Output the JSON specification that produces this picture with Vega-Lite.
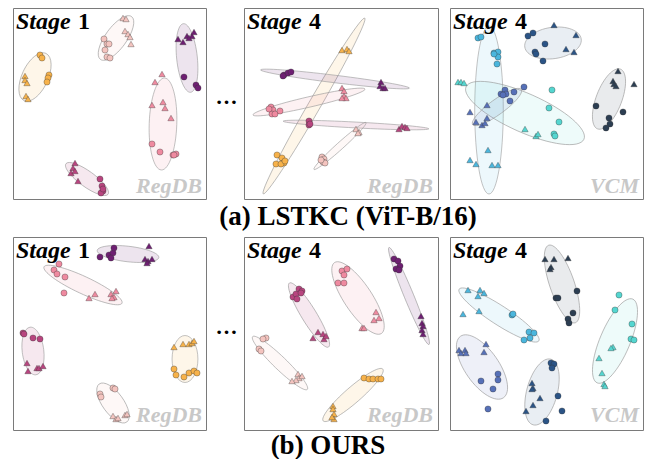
{
"$schema":"https://vega.github.io/schema/vega-lite/v6.json",
"padding":{"left":12,"top":7,"right":2,"bottom":0},
"background":"white",
"config":{"view":{"stroke":"#7a7a7a","strokeWidth":1},"text":{"font":"Liberation Serif, Times New Roman, Times, serif"},"title":{"font":"Liberation Serif, Times New Roman, Times, serif"},"range":{"category":["#55d6d0","#2b5486","#4ab6dd","#f4c4bf","#5670b8","#b8457f","#2c3e52","#f7b24a","#ef8aa0","#6e1f72"]}},
"datasets":{
"lab":[{"p":1,"s":"1","x":3,"y":20.5},{"p":2,"s":"4","x":3,"y":20.5},{"p":3,"s":"4","x":3,"y":20.5},{"p":4,"s":"1","x":3,"y":20.5},{"p":5,"s":"4","x":3,"y":20.5},{"p":6,"s":"4","x":3,"y":20.5}],
"wm":[{"p":1,"t":"RegDB","x":189,"y":185},{"p":2,"t":"RegDB","x":189,"y":185},{"p":3,"t":"VCM","x":189,"y":185},{"p":4,"t":"RegDB","x":189,"y":185},{"p":5,"t":"RegDB","x":189,"y":185},{"p":6,"t":"VCM","x":189,"y":185}],
"ell":[
{"p":1,"c":"o","x":22,"y":69,"len":52,"r":0.5,"a":115},
{"p":1,"c":"lp","x":103,"y":30,"len":53,"r":0.4,"a":126},
{"p":1,"c":"pu","x":174,"y":50,"len":69,"r":0.3,"a":84},
{"p":1,"c":"pk","x":150,"y":116,"len":92,"r":0.3,"a":92},
{"p":1,"c":"mg","x":74,"y":171,"len":52,"r":0.3,"a":36},
{"p":2,"c":"o","x":70,"y":98,"len":203,"r":0.06,"a":120},
{"p":2,"c":"pu","x":91,"y":71,"len":150,"r":0.05,"a":7},
{"p":2,"c":"pk","x":65,"y":94,"len":115,"r":0.09,"a":-13},
{"p":2,"c":"mg","x":112,"y":117,"len":146,"r":0.04,"a":3},
{"p":2,"c":"lp","x":96,"y":138,"len":70,"r":0.1,"a":-42},
{"p":3,"c":"lb","x":39,"y":102,"len":168,"r":0.17,"a":90},
{"p":3,"c":"cy","x":75,"y":105,"len":129,"r":0.3,"a":24},
{"p":3,"c":"mb","x":47,"y":99,"len":60,"r":0.25,"a":-36},
{"p":3,"c":"db","x":103,"y":35,"len":57,"r":0.55,"a":-8},
{"p":3,"c":"nv","x":159,"y":91,"len":64,"r":0.4,"a":111},
{"p":4,"c":"pu","x":115,"y":17,"len":62,"r":0.25,"a":6.5},
{"p":4,"c":"pk","x":70,"y":48,"len":86,"r":0.2,"a":25},
{"p":4,"c":"mg","x":20,"y":114,"len":48,"r":0.45,"a":83},
{"p":4,"c":"o","x":172,"y":122,"len":47,"r":0.55,"a":90},
{"p":4,"c":"lp","x":100,"y":166,"len":47,"r":0.45,"a":54},
{"p":5,"c":"mg","x":65,"y":78,"len":75,"r":0.2,"a":58.6},
{"p":5,"c":"pk","x":114,"y":61,"len":85,"r":0.33,"a":56.5},
{"p":5,"c":"pu","x":165,"y":59,"len":105,"r":0.09,"a":67.6},
{"p":5,"c":"lp","x":36,"y":126,"len":76,"r":0.17,"a":44},
{"p":5,"c":"o","x":109,"y":158,"len":79,"r":0.2,"a":-41},
{"p":6,"c":"nv","x":112,"y":47,"len":82,"r":0.3,"a":71},
{"p":6,"c":"lb","x":49,"y":78,"len":95,"r":0.2,"a":33},
{"p":6,"c":"cy","x":165,"y":104,"len":91,"r":0.33,"a":113},
{"p":6,"c":"mb","x":32,"y":130,"len":75,"r":0.45,"a":55},
{"p":6,"c":"db","x":92,"y":155,"len":68,"r":0.45,"a":105}
],
"pts":[
{"p":1,"c":"o","m":"c","x":27,"y":47},{"p":1,"c":"o","m":"c","x":29,"y":50},{"p":1,"c":"o","m":"c","x":36,"y":67},{"p":1,"c":"o","m":"c","x":35,"y":70},{"p":1,"c":"o","m":"c","x":34,"y":74},
{"p":1,"c":"o","m":"t","x":12,"y":68},{"p":1,"c":"o","m":"t","x":12,"y":72},{"p":1,"c":"o","m":"t","x":14,"y":75},{"p":1,"c":"o","m":"t","x":13,"y":88},{"p":1,"c":"o","m":"t","x":15,"y":91},
{"p":1,"c":"lp","m":"t","x":110,"y":10},{"p":1,"c":"lp","m":"t","x":113,"y":11},{"p":1,"c":"lp","m":"t","x":112,"y":23},{"p":1,"c":"lp","m":"t","x":115,"y":26},{"p":1,"c":"lp","m":"t","x":117,"y":29},{"p":1,"c":"lp","m":"t","x":118,"y":36},
{"p":1,"c":"lp","m":"c","x":91,"y":31},{"p":1,"c":"lp","m":"c","x":94,"y":36},{"p":1,"c":"lp","m":"c","x":96,"y":36},{"p":1,"c":"lp","m":"c","x":92,"y":42},{"p":1,"c":"lp","m":"c","x":94,"y":49},{"p":1,"c":"lp","m":"c","x":97,"y":50},
{"p":1,"c":"pu","m":"t","x":165,"y":31},{"p":1,"c":"pu","m":"t","x":170,"y":34},{"p":1,"c":"pu","m":"t","x":174,"y":28},{"p":1,"c":"pu","m":"t","x":179,"y":28},{"p":1,"c":"pu","m":"t","x":181,"y":24},{"p":1,"c":"pu","m":"t","x":176,"y":30},
{"p":1,"c":"pu","m":"c","x":171,"y":69},{"p":1,"c":"pu","m":"c","x":183,"y":77},{"p":1,"c":"pu","m":"c","x":185,"y":80},
{"p":1,"c":"pk","m":"t","x":149,"y":66},{"p":1,"c":"pk","m":"t","x":142,"y":74},{"p":1,"c":"pk","m":"t","x":139,"y":97},{"p":1,"c":"pk","m":"t","x":150,"y":94},{"p":1,"c":"pk","m":"t","x":152,"y":100},{"p":1,"c":"pk","m":"t","x":158,"y":110},
{"p":1,"c":"pk","m":"c","x":139,"y":136},{"p":1,"c":"pk","m":"c","x":147,"y":144},{"p":1,"c":"pk","m":"c","x":160,"y":147},{"p":1,"c":"pk","m":"c","x":163,"y":146},{"p":1,"c":"pk","m":"c","x":161,"y":147},
{"p":1,"c":"mg","m":"t","x":62,"y":155},{"p":1,"c":"mg","m":"t","x":60,"y":160},{"p":1,"c":"mg","m":"t","x":58,"y":165},{"p":1,"c":"mg","m":"t","x":62,"y":163},{"p":1,"c":"mg","m":"t","x":65,"y":173},
{"p":1,"c":"mg","m":"c","x":87,"y":171},{"p":1,"c":"mg","m":"c","x":89,"y":178},{"p":1,"c":"mg","m":"c","x":90,"y":183},{"p":1,"c":"mg","m":"c","x":88,"y":185},{"p":1,"c":"mg","m":"c","x":90,"y":181},
{"p":2,"c":"o","m":"t","x":98,"y":42},{"p":2,"c":"o","m":"t","x":103,"y":41},{"p":2,"c":"o","m":"t","x":105,"y":43},
{"p":2,"c":"o","m":"c","x":33,"y":147},{"p":2,"c":"o","m":"c","x":38,"y":150},{"p":2,"c":"o","m":"c","x":40,"y":155},{"p":2,"c":"o","m":"c","x":32,"y":156},{"p":2,"c":"o","m":"c","x":37,"y":156},{"p":2,"c":"o","m":"c","x":41,"y":153},
{"p":2,"c":"pu","m":"c","x":40,"y":67},{"p":2,"c":"pu","m":"c","x":44,"y":65},{"p":2,"c":"pu","m":"c","x":47,"y":64},{"p":2,"c":"pu","m":"c","x":39,"y":68},
{"p":2,"c":"pu","m":"t","x":137,"y":74},{"p":2,"c":"pu","m":"t","x":136,"y":78},{"p":2,"c":"pu","m":"t","x":139,"y":80},{"p":2,"c":"pu","m":"t","x":141,"y":80},
{"p":2,"c":"pk","m":"c","x":27,"y":99},{"p":2,"c":"pk","m":"c","x":29,"y":102},{"p":2,"c":"pk","m":"c","x":28,"y":106},{"p":2,"c":"pk","m":"c","x":31,"y":106},{"p":2,"c":"pk","m":"c","x":36,"y":103},{"p":2,"c":"pk","m":"c","x":25,"y":101},
{"p":2,"c":"pk","m":"t","x":98,"y":80},{"p":2,"c":"pk","m":"t","x":100,"y":83},{"p":2,"c":"pk","m":"t","x":100,"y":88},{"p":2,"c":"pk","m":"t","x":102,"y":90},{"p":2,"c":"pk","m":"t","x":98,"y":90},
{"p":2,"c":"mg","m":"c","x":65,"y":113},{"p":2,"c":"mg","m":"c","x":65,"y":117},{"p":2,"c":"mg","m":"c","x":66,"y":116},
{"p":2,"c":"mg","m":"t","x":155,"y":121},{"p":2,"c":"mg","m":"t","x":158,"y":118},{"p":2,"c":"mg","m":"t","x":161,"y":119},{"p":2,"c":"mg","m":"t","x":163,"y":120},
{"p":2,"c":"lp","m":"c","x":78,"y":149},{"p":2,"c":"lp","m":"c","x":80,"y":151},{"p":2,"c":"lp","m":"c","x":79,"y":154},{"p":2,"c":"lp","m":"c","x":81,"y":155},{"p":2,"c":"lp","m":"c","x":77,"y":152},
{"p":2,"c":"lp","m":"t","x":112,"y":121},{"p":2,"c":"lp","m":"t","x":115,"y":124},{"p":2,"c":"lp","m":"t","x":114,"y":125},
{"p":3,"c":"lb","m":"c","x":28,"y":30},{"p":3,"c":"lb","m":"c","x":31,"y":29},{"p":3,"c":"lb","m":"c","x":44,"y":45},{"p":3,"c":"lb","m":"c","x":48,"y":44},{"p":3,"c":"lb","m":"c","x":48,"y":49},{"p":3,"c":"lb","m":"c","x":47,"y":56},{"p":3,"c":"lb","m":"c","x":44,"y":46},
{"p":3,"c":"lb","m":"t","x":38,"y":142},{"p":3,"c":"lb","m":"t","x":20,"y":152},{"p":3,"c":"lb","m":"t","x":26,"y":156},{"p":3,"c":"lb","m":"t","x":42,"y":157},{"p":3,"c":"lb","m":"t","x":48,"y":157},
{"p":3,"c":"cy","m":"t","x":8,"y":74},{"p":3,"c":"cy","m":"t","x":11,"y":74},{"p":3,"c":"cy","m":"t","x":14,"y":75},{"p":3,"c":"cy","m":"t","x":75,"y":121},{"p":3,"c":"cy","m":"t","x":86,"y":128},{"p":3,"c":"cy","m":"t","x":88,"y":126},
{"p":3,"c":"cy","m":"c","x":102,"y":82},{"p":3,"c":"cy","m":"c","x":99,"y":100},{"p":3,"c":"cy","m":"c","x":109,"y":114},{"p":3,"c":"cy","m":"c","x":104,"y":126},{"p":3,"c":"cy","m":"c","x":105,"y":128},
{"p":3,"c":"mb","m":"c","x":51,"y":86},{"p":3,"c":"mb","m":"c","x":55,"y":82},{"p":3,"c":"mb","m":"c","x":56,"y":86},{"p":3,"c":"mb","m":"c","x":64,"y":84},{"p":3,"c":"mb","m":"c","x":74,"y":79},{"p":3,"c":"mb","m":"c","x":60,"y":93},{"p":3,"c":"mb","m":"c","x":53,"y":87},
{"p":3,"c":"mb","m":"t","x":37,"y":97},{"p":3,"c":"mb","m":"t","x":20,"y":104},{"p":3,"c":"mb","m":"t","x":26,"y":114},{"p":3,"c":"mb","m":"t","x":32,"y":117},{"p":3,"c":"mb","m":"t","x":35,"y":115},{"p":3,"c":"mb","m":"t","x":37,"y":110},
{"p":3,"c":"db","m":"c","x":78,"y":28},{"p":3,"c":"db","m":"c","x":83,"y":25},{"p":3,"c":"db","m":"c","x":95,"y":36},{"p":3,"c":"db","m":"c","x":85,"y":44},{"p":3,"c":"db","m":"c","x":86,"y":46},{"p":3,"c":"db","m":"c","x":93,"y":53},
{"p":3,"c":"db","m":"t","x":104,"y":17},{"p":3,"c":"db","m":"t","x":126,"y":27},{"p":3,"c":"db","m":"t","x":116,"y":41},{"p":3,"c":"db","m":"t","x":124,"y":44},
{"p":3,"c":"nv","m":"t","x":168,"y":63},{"p":3,"c":"nv","m":"t","x":163,"y":73},{"p":3,"c":"nv","m":"t","x":164,"y":76},{"p":3,"c":"nv","m":"t","x":166,"y":78},{"p":3,"c":"nv","m":"t","x":184,"y":76},
{"p":3,"c":"nv","m":"c","x":146,"y":98},{"p":3,"c":"nv","m":"c","x":173,"y":104},{"p":3,"c":"nv","m":"c","x":159,"y":110},{"p":3,"c":"nv","m":"c","x":160,"y":116},{"p":3,"c":"nv","m":"c","x":156,"y":120},
{"p":4,"c":"pu","m":"c","x":87,"y":20},{"p":4,"c":"pu","m":"c","x":96,"y":18},{"p":4,"c":"pu","m":"c","x":100,"y":16},{"p":4,"c":"pu","m":"c","x":101,"y":11},{"p":4,"c":"pu","m":"c","x":98,"y":21},
{"p":4,"c":"pu","m":"t","x":136,"y":9},{"p":4,"c":"pu","m":"t","x":132,"y":22},{"p":4,"c":"pu","m":"t","x":135,"y":24},{"p":4,"c":"pu","m":"t","x":139,"y":22},{"p":4,"c":"pu","m":"t","x":134,"y":26},
{"p":4,"c":"pk","m":"c","x":46,"y":27},{"p":4,"c":"pk","m":"c","x":41,"y":33},{"p":4,"c":"pk","m":"c","x":44,"y":37},{"p":4,"c":"pk","m":"c","x":52,"y":40},{"p":4,"c":"pk","m":"c","x":51,"y":56},
{"p":4,"c":"pk","m":"t","x":76,"y":61},{"p":4,"c":"pk","m":"t","x":82,"y":57},{"p":4,"c":"pk","m":"t","x":98,"y":57},{"p":4,"c":"pk","m":"t","x":101,"y":60},{"p":4,"c":"pk","m":"t","x":103,"y":54},{"p":4,"c":"pk","m":"t","x":99,"y":61},
{"p":4,"c":"mg","m":"c","x":10,"y":96},{"p":4,"c":"mg","m":"c","x":11,"y":97},{"p":4,"c":"mg","m":"c","x":20,"y":101},{"p":4,"c":"mg","m":"c","x":27,"y":102},
{"p":4,"c":"mg","m":"t","x":14,"y":126},{"p":4,"c":"mg","m":"t","x":15,"y":134},{"p":4,"c":"mg","m":"t","x":24,"y":131},{"p":4,"c":"mg","m":"t","x":26,"y":131},{"p":4,"c":"mg","m":"t","x":30,"y":129},
{"p":4,"c":"o","m":"t","x":161,"y":110},{"p":4,"c":"o","m":"t","x":170,"y":107},{"p":4,"c":"o","m":"t","x":176,"y":107},{"p":4,"c":"o","m":"t","x":179,"y":106},{"p":4,"c":"o","m":"t","x":181,"y":104},
{"p":4,"c":"o","m":"c","x":161,"y":132},{"p":4,"c":"o","m":"c","x":163,"y":138},{"p":4,"c":"o","m":"c","x":171,"y":140},{"p":4,"c":"o","m":"c","x":176,"y":136},{"p":4,"c":"o","m":"c","x":181,"y":134},{"p":4,"c":"o","m":"c","x":184,"y":136},
{"p":4,"c":"lp","m":"c","x":100,"y":151},{"p":4,"c":"lp","m":"c","x":102,"y":152},{"p":4,"c":"lp","m":"c","x":87,"y":157},{"p":4,"c":"lp","m":"c","x":88,"y":160},
{"p":4,"c":"lp","m":"t","x":100,"y":179},{"p":4,"c":"lp","m":"t","x":103,"y":182},{"p":4,"c":"lp","m":"t","x":105,"y":181},{"p":4,"c":"lp","m":"t","x":112,"y":178},{"p":4,"c":"lp","m":"t","x":114,"y":177},
{"p":5,"c":"mg","m":"c","x":49,"y":60},{"p":5,"c":"mg","m":"c","x":52,"y":57},{"p":5,"c":"mg","m":"c","x":55,"y":52},{"p":5,"c":"mg","m":"c","x":58,"y":54},{"p":5,"c":"mg","m":"c","x":57,"y":56},{"p":5,"c":"mg","m":"c","x":53,"y":62},
{"p":5,"c":"mg","m":"t","x":69,"y":101},{"p":5,"c":"mg","m":"t","x":74,"y":95},{"p":5,"c":"mg","m":"t","x":79,"y":97},{"p":5,"c":"mg","m":"t","x":80,"y":102},{"p":5,"c":"mg","m":"t","x":82,"y":99},
{"p":5,"c":"pk","m":"c","x":98,"y":34},{"p":5,"c":"pk","m":"c","x":103,"y":32},{"p":5,"c":"pk","m":"c","x":100,"y":38},{"p":5,"c":"pk","m":"c","x":94,"y":46},{"p":5,"c":"pk","m":"c","x":100,"y":46},
{"p":5,"c":"pk","m":"t","x":132,"y":75},{"p":5,"c":"pk","m":"t","x":135,"y":81},{"p":5,"c":"pk","m":"t","x":130,"y":83},{"p":5,"c":"pk","m":"t","x":118,"y":91},{"p":5,"c":"pk","m":"t","x":120,"y":91},
{"p":5,"c":"pu","m":"c","x":150,"y":22},{"p":5,"c":"pu","m":"c","x":154,"y":24},{"p":5,"c":"pu","m":"c","x":156,"y":29},{"p":5,"c":"pu","m":"c","x":152,"y":32},{"p":5,"c":"pu","m":"c","x":155,"y":33},
{"p":5,"c":"pu","m":"t","x":177,"y":79},{"p":5,"c":"pu","m":"t","x":178,"y":86},{"p":5,"c":"pu","m":"t","x":179,"y":89},{"p":5,"c":"pu","m":"t","x":178,"y":93},{"p":5,"c":"pu","m":"t","x":179,"y":97},
{"p":5,"c":"lp","m":"c","x":22,"y":101},{"p":5,"c":"lp","m":"c","x":19,"y":102},{"p":5,"c":"lp","m":"c","x":15,"y":112},{"p":5,"c":"lp","m":"c","x":17,"y":114},
{"p":5,"c":"lp","m":"t","x":54,"y":137},{"p":5,"c":"lp","m":"t","x":55,"y":141},{"p":5,"c":"lp","m":"t","x":52,"y":143},{"p":5,"c":"lp","m":"t","x":48,"y":144},{"p":5,"c":"lp","m":"t","x":58,"y":139},
{"p":5,"c":"o","m":"c","x":120,"y":141},{"p":5,"c":"o","m":"c","x":125,"y":142},{"p":5,"c":"o","m":"c","x":129,"y":142},{"p":5,"c":"o","m":"c","x":134,"y":142},{"p":5,"c":"o","m":"c","x":137,"y":142},
{"p":5,"c":"o","m":"t","x":89,"y":169},{"p":5,"c":"o","m":"t","x":89,"y":172},{"p":5,"c":"o","m":"t","x":90,"y":177},{"p":5,"c":"o","m":"t","x":90,"y":182},{"p":5,"c":"o","m":"t","x":88,"y":180},
{"p":6,"c":"nv","m":"t","x":95,"y":22},{"p":6,"c":"nv","m":"t","x":104,"y":22},{"p":6,"c":"nv","m":"t","x":118,"y":21},{"p":6,"c":"nv","m":"t","x":101,"y":30},{"p":6,"c":"nv","m":"t","x":100,"y":32},
{"p":6,"c":"nv","m":"c","x":127,"y":54},{"p":6,"c":"nv","m":"c","x":106,"y":61},{"p":6,"c":"nv","m":"c","x":108,"y":61},{"p":6,"c":"nv","m":"c","x":123,"y":76},{"p":6,"c":"nv","m":"c","x":118,"y":82},{"p":6,"c":"nv","m":"c","x":119,"y":86},
{"p":6,"c":"lb","m":"t","x":18,"y":53},{"p":6,"c":"lb","m":"t","x":30,"y":53},{"p":6,"c":"lb","m":"t","x":34,"y":56},{"p":6,"c":"lb","m":"t","x":28,"y":59},{"p":6,"c":"lb","m":"t","x":29,"y":74},{"p":6,"c":"lb","m":"t","x":13,"y":77},
{"p":6,"c":"lb","m":"c","x":62,"y":78},{"p":6,"c":"lb","m":"c","x":63,"y":77},{"p":6,"c":"lb","m":"c","x":79,"y":95},{"p":6,"c":"lb","m":"c","x":84,"y":96},{"p":6,"c":"lb","m":"c","x":80,"y":101},{"p":6,"c":"lb","m":"c","x":74,"y":103},
{"p":6,"c":"cy","m":"c","x":169,"y":58},{"p":6,"c":"cy","m":"c","x":165,"y":73},{"p":6,"c":"cy","m":"c","x":182,"y":87},{"p":6,"c":"cy","m":"c","x":181,"y":102},{"p":6,"c":"cy","m":"c","x":184,"y":103},
{"p":6,"c":"cy","m":"t","x":163,"y":110},{"p":6,"c":"cy","m":"t","x":161,"y":111},{"p":6,"c":"cy","m":"t","x":149,"y":121},{"p":6,"c":"cy","m":"t","x":152,"y":136},{"p":6,"c":"cy","m":"t","x":154,"y":147},{"p":6,"c":"cy","m":"t","x":155,"y":149},
{"p":6,"c":"mb","m":"t","x":9,"y":113},{"p":6,"c":"mb","m":"t","x":11,"y":116},{"p":6,"c":"mb","m":"t","x":15,"y":113},{"p":6,"c":"mb","m":"t","x":16,"y":116},{"p":6,"c":"mb","m":"t","x":36,"y":107},{"p":6,"c":"mb","m":"t","x":34,"y":115},
{"p":6,"c":"mb","m":"c","x":48,"y":137},{"p":6,"c":"mb","m":"c","x":48,"y":143},{"p":6,"c":"mb","m":"c","x":31,"y":144},{"p":6,"c":"mb","m":"c","x":43,"y":152},{"p":6,"c":"mb","m":"c","x":38,"y":172},
{"p":6,"c":"db","m":"c","x":101,"y":126},{"p":6,"c":"db","m":"c","x":104,"y":127},{"p":6,"c":"db","m":"c","x":102,"y":131},{"p":6,"c":"db","m":"c","x":108,"y":159},{"p":6,"c":"db","m":"c","x":112,"y":174},{"p":6,"c":"db","m":"c","x":96,"y":184},
{"p":6,"c":"db","m":"t","x":82,"y":146},{"p":6,"c":"db","m":"t","x":83,"y":151},{"p":6,"c":"db","m":"t","x":82,"y":152},{"p":6,"c":"db","m":"t","x":90,"y":161},{"p":6,"c":"db","m":"t","x":83,"y":168},{"p":6,"c":"db","m":"t","x":76,"y":174}
]
},
"spacing":6,
"vconcat":[
{"spacing":12,"bounds":"flush",
 "title":{"text":"(a) LSTKC (ViT-B/16)","orient":"bottom","anchor":"middle","dx":20,"offset":4,"fontSize":27,"fontWeight":"bold","color":"#000"},
 "hconcat":[
  {"width":193,"height":191,
   "encoding":{"x":{"field":"x","type":"quantitative","scale":{"domain":[0,193],"nice":false,"zero":false},"axis":null},"y":{"field":"y","type":"quantitative","scale":{"domain":[0,191],"nice":false,"zero":false,"reverse":true},"axis":null}},
   "layer":[
    {"data":{"name":"ell"},"transform":[{"filter":"datum.p==1"}],"mark":{"type":"point","filled":true,"opacity":1,"fillOpacity":0.12,"stroke":"#9a9a9a","strokeWidth":0.6,"strokeOpacity":1},
     "encoding":{"color":{"field":"c","type":"nominal","legend":null},
      "shape":{"field":"r","type":"nominal","legend":null,"scale":{"domain":[0.04,0.05,0.06,0.09,0.1,0.17,0.2,0.25,0.3,0.33,0.4,0.45,0.5,0.55],"range":["M1,0C1,0.0221 0.5523,0.04 0,0.04C-0.5523,0.04 -1,0.0221 -1,0C-1,-0.0221 -0.5523,-0.04 0,-0.04C0.5523,-0.04 1,-0.0221 1,0Z","M1,0C1,0.0276 0.5523,0.05 0,0.05C-0.5523,0.05 -1,0.0276 -1,0C-1,-0.0276 -0.5523,-0.05 0,-0.05C0.5523,-0.05 1,-0.0276 1,0Z","M1,0C1,0.0331 0.5523,0.06 0,0.06C-0.5523,0.06 -1,0.0331 -1,0C-1,-0.0331 -0.5523,-0.06 0,-0.06C0.5523,-0.06 1,-0.0331 1,0Z","M1,0C1,0.0497 0.5523,0.09 0,0.09C-0.5523,0.09 -1,0.0497 -1,0C-1,-0.0497 -0.5523,-0.09 0,-0.09C0.5523,-0.09 1,-0.0497 1,0Z","M1,0C1,0.0552 0.5523,0.1 0,0.1C-0.5523,0.1 -1,0.0552 -1,0C-1,-0.0552 -0.5523,-0.1 0,-0.1C0.5523,-0.1 1,-0.0552 1,0Z","M1,0C1,0.0939 0.5523,0.17 0,0.17C-0.5523,0.17 -1,0.0939 -1,0C-1,-0.0939 -0.5523,-0.17 0,-0.17C0.5523,-0.17 1,-0.0939 1,0Z","M1,0C1,0.1105 0.5523,0.2 0,0.2C-0.5523,0.2 -1,0.1105 -1,0C-1,-0.1105 -0.5523,-0.2 0,-0.2C0.5523,-0.2 1,-0.1105 1,0Z","M1,0C1,0.1381 0.5523,0.25 0,0.25C-0.5523,0.25 -1,0.1381 -1,0C-1,-0.1381 -0.5523,-0.25 0,-0.25C0.5523,-0.25 1,-0.1381 1,0Z","M1,0C1,0.1657 0.5523,0.3 0,0.3C-0.5523,0.3 -1,0.1657 -1,0C-1,-0.1657 -0.5523,-0.3 0,-0.3C0.5523,-0.3 1,-0.1657 1,0Z","M1,0C1,0.1823 0.5523,0.33 0,0.33C-0.5523,0.33 -1,0.1823 -1,0C-1,-0.1823 -0.5523,-0.33 0,-0.33C0.5523,-0.33 1,-0.1823 1,0Z","M1,0C1,0.2209 0.5523,0.4 0,0.4C-0.5523,0.4 -1,0.2209 -1,0C-1,-0.2209 -0.5523,-0.4 0,-0.4C0.5523,-0.4 1,-0.2209 1,0Z","M1,0C1,0.2485 0.5523,0.45 0,0.45C-0.5523,0.45 -1,0.2485 -1,0C-1,-0.2485 -0.5523,-0.45 0,-0.45C0.5523,-0.45 1,-0.2485 1,0Z","M1,0C1,0.2762 0.5523,0.5 0,0.5C-0.5523,0.5 -1,0.2762 -1,0C-1,-0.2762 -0.5523,-0.5 0,-0.5C0.5523,-0.5 1,-0.2762 1,0Z","M1,0C1,0.3038 0.5523,0.55 0,0.55C-0.5523,0.55 -1,0.3038 -1,0C-1,-0.3038 -0.5523,-0.55 0,-0.55C0.5523,-0.55 1,-0.3038 1,0Z"]}},
      "size":{"field":"len","type":"quantitative","legend":null,"scale":{"type":"pow","exponent":2,"domain":[0,200],"range":[0,40000]}},
      "angle":{"field":"a","type":"quantitative","scale":null}}},
    {"data":{"name":"pts"},"transform":[{"filter":"datum.p==1 && datum.m=='c'"}],"mark":{"type":"point","shape":"circle","filled":true,"opacity":1,"size":38,"stroke":"#333","strokeWidth":0.5,"strokeOpacity":0.7},"encoding":{"color":{"field":"c","type":"nominal","legend":null}}},
    {"data":{"name":"pts"},"transform":[{"filter":"datum.p==1 && datum.m=='t'"}],"mark":{"type":"point","shape":"triangle-up","filled":true,"opacity":1,"size":40,"stroke":"#333","strokeWidth":0.5,"strokeOpacity":0.7},"encoding":{"color":{"field":"c","type":"nominal","legend":null}}},
    {"data":{"name":"lab"},"transform":[{"filter":"datum.p==1"}],"mark":{"type":"text","text":"Stage","fontSize":24,"fontWeight":"bold","fontStyle":"italic","align":"left","baseline":"alphabetic","color":"#000"}},
    {"data":{"name":"lab"},"transform":[{"filter":"datum.p==1"}],"mark":{"type":"text","fontSize":24,"fontWeight":"bold","align":"left","baseline":"alphabetic","dx":62,"color":"#000"},"encoding":{"text":{"field":"s"}}},
    {"data":{"name":"wm"},"transform":[{"filter":"datum.p==1"}],"mark":{"type":"text","fontSize":22,"fontWeight":"bold","fontStyle":"italic","align":"right","baseline":"alphabetic","color":"#c8c8c8"},"encoding":{"text":{"field":"t"}}}
   ]},
  {"width":14,"height":191,"view":{"stroke":null},"data":{"values":[{"x":0.6,"y":0.5}]},"mark":{"type":"text","text":"…","fontSize":22,"fontWeight":"bold","align":"center","baseline":"alphabetic","color":"#000"},
   "encoding":{"x":{"field":"x","type":"quantitative","scale":{"domain":[0,1],"nice":false},"axis":null},"y":{"field":"y","type":"quantitative","scale":{"domain":[0,1],"nice":false},"axis":null}}},
  {"width":194,"height":191,
   "encoding":{"x":{"field":"x","type":"quantitative","scale":{"domain":[0,194],"nice":false,"zero":false},"axis":null},"y":{"field":"y","type":"quantitative","scale":{"domain":[0,191],"nice":false,"zero":false,"reverse":true},"axis":null}},
   "layer":[
    {"data":{"name":"ell"},"transform":[{"filter":"datum.p==2"}],"mark":{"type":"point","filled":true,"opacity":1,"fillOpacity":0.12,"stroke":"#9a9a9a","strokeWidth":0.6,"strokeOpacity":1},
     "encoding":{"color":{"field":"c","type":"nominal","legend":null},
      "shape":{"field":"r","type":"nominal","legend":null,"scale":{"domain":[0.04,0.05,0.06,0.09,0.1,0.17,0.2,0.25,0.3,0.33,0.4,0.45,0.5,0.55],"range":["M1,0C1,0.0221 0.5523,0.04 0,0.04C-0.5523,0.04 -1,0.0221 -1,0C-1,-0.0221 -0.5523,-0.04 0,-0.04C0.5523,-0.04 1,-0.0221 1,0Z","M1,0C1,0.0276 0.5523,0.05 0,0.05C-0.5523,0.05 -1,0.0276 -1,0C-1,-0.0276 -0.5523,-0.05 0,-0.05C0.5523,-0.05 1,-0.0276 1,0Z","M1,0C1,0.0331 0.5523,0.06 0,0.06C-0.5523,0.06 -1,0.0331 -1,0C-1,-0.0331 -0.5523,-0.06 0,-0.06C0.5523,-0.06 1,-0.0331 1,0Z","M1,0C1,0.0497 0.5523,0.09 0,0.09C-0.5523,0.09 -1,0.0497 -1,0C-1,-0.0497 -0.5523,-0.09 0,-0.09C0.5523,-0.09 1,-0.0497 1,0Z","M1,0C1,0.0552 0.5523,0.1 0,0.1C-0.5523,0.1 -1,0.0552 -1,0C-1,-0.0552 -0.5523,-0.1 0,-0.1C0.5523,-0.1 1,-0.0552 1,0Z","M1,0C1,0.0939 0.5523,0.17 0,0.17C-0.5523,0.17 -1,0.0939 -1,0C-1,-0.0939 -0.5523,-0.17 0,-0.17C0.5523,-0.17 1,-0.0939 1,0Z","M1,0C1,0.1105 0.5523,0.2 0,0.2C-0.5523,0.2 -1,0.1105 -1,0C-1,-0.1105 -0.5523,-0.2 0,-0.2C0.5523,-0.2 1,-0.1105 1,0Z","M1,0C1,0.1381 0.5523,0.25 0,0.25C-0.5523,0.25 -1,0.1381 -1,0C-1,-0.1381 -0.5523,-0.25 0,-0.25C0.5523,-0.25 1,-0.1381 1,0Z","M1,0C1,0.1657 0.5523,0.3 0,0.3C-0.5523,0.3 -1,0.1657 -1,0C-1,-0.1657 -0.5523,-0.3 0,-0.3C0.5523,-0.3 1,-0.1657 1,0Z","M1,0C1,0.1823 0.5523,0.33 0,0.33C-0.5523,0.33 -1,0.1823 -1,0C-1,-0.1823 -0.5523,-0.33 0,-0.33C0.5523,-0.33 1,-0.1823 1,0Z","M1,0C1,0.2209 0.5523,0.4 0,0.4C-0.5523,0.4 -1,0.2209 -1,0C-1,-0.2209 -0.5523,-0.4 0,-0.4C0.5523,-0.4 1,-0.2209 1,0Z","M1,0C1,0.2485 0.5523,0.45 0,0.45C-0.5523,0.45 -1,0.2485 -1,0C-1,-0.2485 -0.5523,-0.45 0,-0.45C0.5523,-0.45 1,-0.2485 1,0Z","M1,0C1,0.2762 0.5523,0.5 0,0.5C-0.5523,0.5 -1,0.2762 -1,0C-1,-0.2762 -0.5523,-0.5 0,-0.5C0.5523,-0.5 1,-0.2762 1,0Z","M1,0C1,0.3038 0.5523,0.55 0,0.55C-0.5523,0.55 -1,0.3038 -1,0C-1,-0.3038 -0.5523,-0.55 0,-0.55C0.5523,-0.55 1,-0.3038 1,0Z"]}},
      "size":{"field":"len","type":"quantitative","legend":null,"scale":{"type":"pow","exponent":2,"domain":[0,200],"range":[0,40000]}},
      "angle":{"field":"a","type":"quantitative","scale":null}}},
    {"data":{"name":"pts"},"transform":[{"filter":"datum.p==2 && datum.m=='c'"}],"mark":{"type":"point","shape":"circle","filled":true,"opacity":1,"size":38,"stroke":"#333","strokeWidth":0.5,"strokeOpacity":0.7},"encoding":{"color":{"field":"c","type":"nominal","legend":null}}},
    {"data":{"name":"pts"},"transform":[{"filter":"datum.p==2 && datum.m=='t'"}],"mark":{"type":"point","shape":"triangle-up","filled":true,"opacity":1,"size":40,"stroke":"#333","strokeWidth":0.5,"strokeOpacity":0.7},"encoding":{"color":{"field":"c","type":"nominal","legend":null}}},
    {"data":{"name":"lab"},"transform":[{"filter":"datum.p==2"}],"mark":{"type":"text","text":"Stage","fontSize":24,"fontWeight":"bold","fontStyle":"italic","align":"left","baseline":"alphabetic","color":"#000"}},
    {"data":{"name":"lab"},"transform":[{"filter":"datum.p==2"}],"mark":{"type":"text","fontSize":24,"fontWeight":"bold","align":"left","baseline":"alphabetic","dx":62,"color":"#000"},"encoding":{"text":{"field":"s"}}},
    {"data":{"name":"wm"},"transform":[{"filter":"datum.p==2"}],"mark":{"type":"text","fontSize":22,"fontWeight":"bold","fontStyle":"italic","align":"right","baseline":"alphabetic","color":"#c8c8c8"},"encoding":{"text":{"field":"t"}}}
   ]},
  {"width":193,"height":191,
   "encoding":{"x":{"field":"x","type":"quantitative","scale":{"domain":[0,193],"nice":false,"zero":false},"axis":null},"y":{"field":"y","type":"quantitative","scale":{"domain":[0,191],"nice":false,"zero":false,"reverse":true},"axis":null}},
   "layer":[
    {"data":{"name":"ell"},"transform":[{"filter":"datum.p==3"}],"mark":{"type":"point","filled":true,"opacity":1,"fillOpacity":0.1,"stroke":"#9a9a9a","strokeWidth":0.6,"strokeOpacity":1},
     "encoding":{"color":{"field":"c","type":"nominal","legend":null},
      "shape":{"field":"r","type":"nominal","legend":null,"scale":{"domain":[0.04,0.05,0.06,0.09,0.1,0.17,0.2,0.25,0.3,0.33,0.4,0.45,0.5,0.55],"range":["M1,0C1,0.0221 0.5523,0.04 0,0.04C-0.5523,0.04 -1,0.0221 -1,0C-1,-0.0221 -0.5523,-0.04 0,-0.04C0.5523,-0.04 1,-0.0221 1,0Z","M1,0C1,0.0276 0.5523,0.05 0,0.05C-0.5523,0.05 -1,0.0276 -1,0C-1,-0.0276 -0.5523,-0.05 0,-0.05C0.5523,-0.05 1,-0.0276 1,0Z","M1,0C1,0.0331 0.5523,0.06 0,0.06C-0.5523,0.06 -1,0.0331 -1,0C-1,-0.0331 -0.5523,-0.06 0,-0.06C0.5523,-0.06 1,-0.0331 1,0Z","M1,0C1,0.0497 0.5523,0.09 0,0.09C-0.5523,0.09 -1,0.0497 -1,0C-1,-0.0497 -0.5523,-0.09 0,-0.09C0.5523,-0.09 1,-0.0497 1,0Z","M1,0C1,0.0552 0.5523,0.1 0,0.1C-0.5523,0.1 -1,0.0552 -1,0C-1,-0.0552 -0.5523,-0.1 0,-0.1C0.5523,-0.1 1,-0.0552 1,0Z","M1,0C1,0.0939 0.5523,0.17 0,0.17C-0.5523,0.17 -1,0.0939 -1,0C-1,-0.0939 -0.5523,-0.17 0,-0.17C0.5523,-0.17 1,-0.0939 1,0Z","M1,0C1,0.1105 0.5523,0.2 0,0.2C-0.5523,0.2 -1,0.1105 -1,0C-1,-0.1105 -0.5523,-0.2 0,-0.2C0.5523,-0.2 1,-0.1105 1,0Z","M1,0C1,0.1381 0.5523,0.25 0,0.25C-0.5523,0.25 -1,0.1381 -1,0C-1,-0.1381 -0.5523,-0.25 0,-0.25C0.5523,-0.25 1,-0.1381 1,0Z","M1,0C1,0.1657 0.5523,0.3 0,0.3C-0.5523,0.3 -1,0.1657 -1,0C-1,-0.1657 -0.5523,-0.3 0,-0.3C0.5523,-0.3 1,-0.1657 1,0Z","M1,0C1,0.1823 0.5523,0.33 0,0.33C-0.5523,0.33 -1,0.1823 -1,0C-1,-0.1823 -0.5523,-0.33 0,-0.33C0.5523,-0.33 1,-0.1823 1,0Z","M1,0C1,0.2209 0.5523,0.4 0,0.4C-0.5523,0.4 -1,0.2209 -1,0C-1,-0.2209 -0.5523,-0.4 0,-0.4C0.5523,-0.4 1,-0.2209 1,0Z","M1,0C1,0.2485 0.5523,0.45 0,0.45C-0.5523,0.45 -1,0.2485 -1,0C-1,-0.2485 -0.5523,-0.45 0,-0.45C0.5523,-0.45 1,-0.2485 1,0Z","M1,0C1,0.2762 0.5523,0.5 0,0.5C-0.5523,0.5 -1,0.2762 -1,0C-1,-0.2762 -0.5523,-0.5 0,-0.5C0.5523,-0.5 1,-0.2762 1,0Z","M1,0C1,0.3038 0.5523,0.55 0,0.55C-0.5523,0.55 -1,0.3038 -1,0C-1,-0.3038 -0.5523,-0.55 0,-0.55C0.5523,-0.55 1,-0.3038 1,0Z"]}},
      "size":{"field":"len","type":"quantitative","legend":null,"scale":{"type":"pow","exponent":2,"domain":[0,200],"range":[0,40000]}},
      "angle":{"field":"a","type":"quantitative","scale":null}}},
    {"data":{"name":"pts"},"transform":[{"filter":"datum.p==3 && datum.m=='c'"}],"mark":{"type":"point","shape":"circle","filled":true,"opacity":1,"size":38,"stroke":"#333","strokeWidth":0.5,"strokeOpacity":0.7},"encoding":{"color":{"field":"c","type":"nominal","legend":null}}},
    {"data":{"name":"pts"},"transform":[{"filter":"datum.p==3 && datum.m=='t'"}],"mark":{"type":"point","shape":"triangle-up","filled":true,"opacity":1,"size":40,"stroke":"#333","strokeWidth":0.5,"strokeOpacity":0.7},"encoding":{"color":{"field":"c","type":"nominal","legend":null}}},
    {"data":{"name":"lab"},"transform":[{"filter":"datum.p==3"}],"mark":{"type":"text","text":"Stage","fontSize":24,"fontWeight":"bold","fontStyle":"italic","align":"left","baseline":"alphabetic","color":"#000"}},
    {"data":{"name":"lab"},"transform":[{"filter":"datum.p==3"}],"mark":{"type":"text","fontSize":24,"fontWeight":"bold","align":"left","baseline":"alphabetic","dx":62,"color":"#000"},"encoding":{"text":{"field":"s"}}},
    {"data":{"name":"wm"},"transform":[{"filter":"datum.p==3"}],"mark":{"type":"text","fontSize":22,"fontWeight":"bold","fontStyle":"italic","align":"right","baseline":"alphabetic","color":"#c8c8c8"},"encoding":{"text":{"field":"t"}}}
   ]}
 ]},
{"spacing":12,"bounds":"flush",
 "title":{"text":"(b) OURS","orient":"bottom","anchor":"middle","dx":0,"offset":2,"fontSize":27,"fontWeight":"bold","color":"#000"},
 "hconcat":[
  {"width":193,"height":193,
   "encoding":{"x":{"field":"x","type":"quantitative","scale":{"domain":[0,193],"nice":false,"zero":false},"axis":null},"y":{"field":"y","type":"quantitative","scale":{"domain":[0,193],"nice":false,"zero":false,"reverse":true},"axis":null}},
   "layer":[
    {"data":{"name":"ell"},"transform":[{"filter":"datum.p==4"}],"mark":{"type":"point","filled":true,"opacity":1,"fillOpacity":0.12,"stroke":"#9a9a9a","strokeWidth":0.6,"strokeOpacity":1},
     "encoding":{"color":{"field":"c","type":"nominal","legend":null},
      "shape":{"field":"r","type":"nominal","legend":null,"scale":{"domain":[0.04,0.05,0.06,0.09,0.1,0.17,0.2,0.25,0.3,0.33,0.4,0.45,0.5,0.55],"range":["M1,0C1,0.0221 0.5523,0.04 0,0.04C-0.5523,0.04 -1,0.0221 -1,0C-1,-0.0221 -0.5523,-0.04 0,-0.04C0.5523,-0.04 1,-0.0221 1,0Z","M1,0C1,0.0276 0.5523,0.05 0,0.05C-0.5523,0.05 -1,0.0276 -1,0C-1,-0.0276 -0.5523,-0.05 0,-0.05C0.5523,-0.05 1,-0.0276 1,0Z","M1,0C1,0.0331 0.5523,0.06 0,0.06C-0.5523,0.06 -1,0.0331 -1,0C-1,-0.0331 -0.5523,-0.06 0,-0.06C0.5523,-0.06 1,-0.0331 1,0Z","M1,0C1,0.0497 0.5523,0.09 0,0.09C-0.5523,0.09 -1,0.0497 -1,0C-1,-0.0497 -0.5523,-0.09 0,-0.09C0.5523,-0.09 1,-0.0497 1,0Z","M1,0C1,0.0552 0.5523,0.1 0,0.1C-0.5523,0.1 -1,0.0552 -1,0C-1,-0.0552 -0.5523,-0.1 0,-0.1C0.5523,-0.1 1,-0.0552 1,0Z","M1,0C1,0.0939 0.5523,0.17 0,0.17C-0.5523,0.17 -1,0.0939 -1,0C-1,-0.0939 -0.5523,-0.17 0,-0.17C0.5523,-0.17 1,-0.0939 1,0Z","M1,0C1,0.1105 0.5523,0.2 0,0.2C-0.5523,0.2 -1,0.1105 -1,0C-1,-0.1105 -0.5523,-0.2 0,-0.2C0.5523,-0.2 1,-0.1105 1,0Z","M1,0C1,0.1381 0.5523,0.25 0,0.25C-0.5523,0.25 -1,0.1381 -1,0C-1,-0.1381 -0.5523,-0.25 0,-0.25C0.5523,-0.25 1,-0.1381 1,0Z","M1,0C1,0.1657 0.5523,0.3 0,0.3C-0.5523,0.3 -1,0.1657 -1,0C-1,-0.1657 -0.5523,-0.3 0,-0.3C0.5523,-0.3 1,-0.1657 1,0Z","M1,0C1,0.1823 0.5523,0.33 0,0.33C-0.5523,0.33 -1,0.1823 -1,0C-1,-0.1823 -0.5523,-0.33 0,-0.33C0.5523,-0.33 1,-0.1823 1,0Z","M1,0C1,0.2209 0.5523,0.4 0,0.4C-0.5523,0.4 -1,0.2209 -1,0C-1,-0.2209 -0.5523,-0.4 0,-0.4C0.5523,-0.4 1,-0.2209 1,0Z","M1,0C1,0.2485 0.5523,0.45 0,0.45C-0.5523,0.45 -1,0.2485 -1,0C-1,-0.2485 -0.5523,-0.45 0,-0.45C0.5523,-0.45 1,-0.2485 1,0Z","M1,0C1,0.2762 0.5523,0.5 0,0.5C-0.5523,0.5 -1,0.2762 -1,0C-1,-0.2762 -0.5523,-0.5 0,-0.5C0.5523,-0.5 1,-0.2762 1,0Z","M1,0C1,0.3038 0.5523,0.55 0,0.55C-0.5523,0.55 -1,0.3038 -1,0C-1,-0.3038 -0.5523,-0.55 0,-0.55C0.5523,-0.55 1,-0.3038 1,0Z"]}},
      "size":{"field":"len","type":"quantitative","legend":null,"scale":{"type":"pow","exponent":2,"domain":[0,200],"range":[0,40000]}},
      "angle":{"field":"a","type":"quantitative","scale":null}}},
    {"data":{"name":"pts"},"transform":[{"filter":"datum.p==4 && datum.m=='c'"}],"mark":{"type":"point","shape":"circle","filled":true,"opacity":1,"size":38,"stroke":"#333","strokeWidth":0.5,"strokeOpacity":0.7},"encoding":{"color":{"field":"c","type":"nominal","legend":null}}},
    {"data":{"name":"pts"},"transform":[{"filter":"datum.p==4 && datum.m=='t'"}],"mark":{"type":"point","shape":"triangle-up","filled":true,"opacity":1,"size":40,"stroke":"#333","strokeWidth":0.5,"strokeOpacity":0.7},"encoding":{"color":{"field":"c","type":"nominal","legend":null}}},
    {"data":{"name":"lab"},"transform":[{"filter":"datum.p==4"}],"mark":{"type":"text","text":"Stage","fontSize":24,"fontWeight":"bold","fontStyle":"italic","align":"left","baseline":"alphabetic","color":"#000"}},
    {"data":{"name":"lab"},"transform":[{"filter":"datum.p==4"}],"mark":{"type":"text","fontSize":24,"fontWeight":"bold","align":"left","baseline":"alphabetic","dx":62,"color":"#000"},"encoding":{"text":{"field":"s"}}},
    {"data":{"name":"wm"},"transform":[{"filter":"datum.p==4"}],"mark":{"type":"text","fontSize":22,"fontWeight":"bold","fontStyle":"italic","align":"right","baseline":"alphabetic","color":"#c8c8c8"},"encoding":{"text":{"field":"t"}}}
   ]},
  {"width":14,"height":193,"view":{"stroke":null},"data":{"values":[{"x":0.6,"y":0.5}]},"mark":{"type":"text","text":"…","fontSize":22,"fontWeight":"bold","align":"center","baseline":"alphabetic","color":"#000"},
   "encoding":{"x":{"field":"x","type":"quantitative","scale":{"domain":[0,1],"nice":false},"axis":null},"y":{"field":"y","type":"quantitative","scale":{"domain":[0,1],"nice":false},"axis":null}}},
  {"width":194,"height":193,
   "encoding":{"x":{"field":"x","type":"quantitative","scale":{"domain":[0,194],"nice":false,"zero":false},"axis":null},"y":{"field":"y","type":"quantitative","scale":{"domain":[0,193],"nice":false,"zero":false,"reverse":true},"axis":null}},
   "layer":[
    {"data":{"name":"ell"},"transform":[{"filter":"datum.p==5"}],"mark":{"type":"point","filled":true,"opacity":1,"fillOpacity":0.12,"stroke":"#9a9a9a","strokeWidth":0.6,"strokeOpacity":1},
     "encoding":{"color":{"field":"c","type":"nominal","legend":null},
      "shape":{"field":"r","type":"nominal","legend":null,"scale":{"domain":[0.04,0.05,0.06,0.09,0.1,0.17,0.2,0.25,0.3,0.33,0.4,0.45,0.5,0.55],"range":["M1,0C1,0.0221 0.5523,0.04 0,0.04C-0.5523,0.04 -1,0.0221 -1,0C-1,-0.0221 -0.5523,-0.04 0,-0.04C0.5523,-0.04 1,-0.0221 1,0Z","M1,0C1,0.0276 0.5523,0.05 0,0.05C-0.5523,0.05 -1,0.0276 -1,0C-1,-0.0276 -0.5523,-0.05 0,-0.05C0.5523,-0.05 1,-0.0276 1,0Z","M1,0C1,0.0331 0.5523,0.06 0,0.06C-0.5523,0.06 -1,0.0331 -1,0C-1,-0.0331 -0.5523,-0.06 0,-0.06C0.5523,-0.06 1,-0.0331 1,0Z","M1,0C1,0.0497 0.5523,0.09 0,0.09C-0.5523,0.09 -1,0.0497 -1,0C-1,-0.0497 -0.5523,-0.09 0,-0.09C0.5523,-0.09 1,-0.0497 1,0Z","M1,0C1,0.0552 0.5523,0.1 0,0.1C-0.5523,0.1 -1,0.0552 -1,0C-1,-0.0552 -0.5523,-0.1 0,-0.1C0.5523,-0.1 1,-0.0552 1,0Z","M1,0C1,0.0939 0.5523,0.17 0,0.17C-0.5523,0.17 -1,0.0939 -1,0C-1,-0.0939 -0.5523,-0.17 0,-0.17C0.5523,-0.17 1,-0.0939 1,0Z","M1,0C1,0.1105 0.5523,0.2 0,0.2C-0.5523,0.2 -1,0.1105 -1,0C-1,-0.1105 -0.5523,-0.2 0,-0.2C0.5523,-0.2 1,-0.1105 1,0Z","M1,0C1,0.1381 0.5523,0.25 0,0.25C-0.5523,0.25 -1,0.1381 -1,0C-1,-0.1381 -0.5523,-0.25 0,-0.25C0.5523,-0.25 1,-0.1381 1,0Z","M1,0C1,0.1657 0.5523,0.3 0,0.3C-0.5523,0.3 -1,0.1657 -1,0C-1,-0.1657 -0.5523,-0.3 0,-0.3C0.5523,-0.3 1,-0.1657 1,0Z","M1,0C1,0.1823 0.5523,0.33 0,0.33C-0.5523,0.33 -1,0.1823 -1,0C-1,-0.1823 -0.5523,-0.33 0,-0.33C0.5523,-0.33 1,-0.1823 1,0Z","M1,0C1,0.2209 0.5523,0.4 0,0.4C-0.5523,0.4 -1,0.2209 -1,0C-1,-0.2209 -0.5523,-0.4 0,-0.4C0.5523,-0.4 1,-0.2209 1,0Z","M1,0C1,0.2485 0.5523,0.45 0,0.45C-0.5523,0.45 -1,0.2485 -1,0C-1,-0.2485 -0.5523,-0.45 0,-0.45C0.5523,-0.45 1,-0.2485 1,0Z","M1,0C1,0.2762 0.5523,0.5 0,0.5C-0.5523,0.5 -1,0.2762 -1,0C-1,-0.2762 -0.5523,-0.5 0,-0.5C0.5523,-0.5 1,-0.2762 1,0Z","M1,0C1,0.3038 0.5523,0.55 0,0.55C-0.5523,0.55 -1,0.3038 -1,0C-1,-0.3038 -0.5523,-0.55 0,-0.55C0.5523,-0.55 1,-0.3038 1,0Z"]}},
      "size":{"field":"len","type":"quantitative","legend":null,"scale":{"type":"pow","exponent":2,"domain":[0,200],"range":[0,40000]}},
      "angle":{"field":"a","type":"quantitative","scale":null}}},
    {"data":{"name":"pts"},"transform":[{"filter":"datum.p==5 && datum.m=='c'"}],"mark":{"type":"point","shape":"circle","filled":true,"opacity":1,"size":38,"stroke":"#333","strokeWidth":0.5,"strokeOpacity":0.7},"encoding":{"color":{"field":"c","type":"nominal","legend":null}}},
    {"data":{"name":"pts"},"transform":[{"filter":"datum.p==5 && datum.m=='t'"}],"mark":{"type":"point","shape":"triangle-up","filled":true,"opacity":1,"size":40,"stroke":"#333","strokeWidth":0.5,"strokeOpacity":0.7},"encoding":{"color":{"field":"c","type":"nominal","legend":null}}},
    {"data":{"name":"lab"},"transform":[{"filter":"datum.p==5"}],"mark":{"type":"text","text":"Stage","fontSize":24,"fontWeight":"bold","fontStyle":"italic","align":"left","baseline":"alphabetic","color":"#000"}},
    {"data":{"name":"lab"},"transform":[{"filter":"datum.p==5"}],"mark":{"type":"text","fontSize":24,"fontWeight":"bold","align":"left","baseline":"alphabetic","dx":62,"color":"#000"},"encoding":{"text":{"field":"s"}}},
    {"data":{"name":"wm"},"transform":[{"filter":"datum.p==5"}],"mark":{"type":"text","fontSize":22,"fontWeight":"bold","fontStyle":"italic","align":"right","baseline":"alphabetic","color":"#c8c8c8"},"encoding":{"text":{"field":"t"}}}
   ]},
  {"width":193,"height":193,
   "encoding":{"x":{"field":"x","type":"quantitative","scale":{"domain":[0,193],"nice":false,"zero":false},"axis":null},"y":{"field":"y","type":"quantitative","scale":{"domain":[0,193],"nice":false,"zero":false,"reverse":true},"axis":null}},
   "layer":[
    {"data":{"name":"ell"},"transform":[{"filter":"datum.p==6"}],"mark":{"type":"point","filled":true,"opacity":1,"fillOpacity":0.1,"stroke":"#9a9a9a","strokeWidth":0.6,"strokeOpacity":1},
     "encoding":{"color":{"field":"c","type":"nominal","legend":null},
      "shape":{"field":"r","type":"nominal","legend":null,"scale":{"domain":[0.04,0.05,0.06,0.09,0.1,0.17,0.2,0.25,0.3,0.33,0.4,0.45,0.5,0.55],"range":["M1,0C1,0.0221 0.5523,0.04 0,0.04C-0.5523,0.04 -1,0.0221 -1,0C-1,-0.0221 -0.5523,-0.04 0,-0.04C0.5523,-0.04 1,-0.0221 1,0Z","M1,0C1,0.0276 0.5523,0.05 0,0.05C-0.5523,0.05 -1,0.0276 -1,0C-1,-0.0276 -0.5523,-0.05 0,-0.05C0.5523,-0.05 1,-0.0276 1,0Z","M1,0C1,0.0331 0.5523,0.06 0,0.06C-0.5523,0.06 -1,0.0331 -1,0C-1,-0.0331 -0.5523,-0.06 0,-0.06C0.5523,-0.06 1,-0.0331 1,0Z","M1,0C1,0.0497 0.5523,0.09 0,0.09C-0.5523,0.09 -1,0.0497 -1,0C-1,-0.0497 -0.5523,-0.09 0,-0.09C0.5523,-0.09 1,-0.0497 1,0Z","M1,0C1,0.0552 0.5523,0.1 0,0.1C-0.5523,0.1 -1,0.0552 -1,0C-1,-0.0552 -0.5523,-0.1 0,-0.1C0.5523,-0.1 1,-0.0552 1,0Z","M1,0C1,0.0939 0.5523,0.17 0,0.17C-0.5523,0.17 -1,0.0939 -1,0C-1,-0.0939 -0.5523,-0.17 0,-0.17C0.5523,-0.17 1,-0.0939 1,0Z","M1,0C1,0.1105 0.5523,0.2 0,0.2C-0.5523,0.2 -1,0.1105 -1,0C-1,-0.1105 -0.5523,-0.2 0,-0.2C0.5523,-0.2 1,-0.1105 1,0Z","M1,0C1,0.1381 0.5523,0.25 0,0.25C-0.5523,0.25 -1,0.1381 -1,0C-1,-0.1381 -0.5523,-0.25 0,-0.25C0.5523,-0.25 1,-0.1381 1,0Z","M1,0C1,0.1657 0.5523,0.3 0,0.3C-0.5523,0.3 -1,0.1657 -1,0C-1,-0.1657 -0.5523,-0.3 0,-0.3C0.5523,-0.3 1,-0.1657 1,0Z","M1,0C1,0.1823 0.5523,0.33 0,0.33C-0.5523,0.33 -1,0.1823 -1,0C-1,-0.1823 -0.5523,-0.33 0,-0.33C0.5523,-0.33 1,-0.1823 1,0Z","M1,0C1,0.2209 0.5523,0.4 0,0.4C-0.5523,0.4 -1,0.2209 -1,0C-1,-0.2209 -0.5523,-0.4 0,-0.4C0.5523,-0.4 1,-0.2209 1,0Z","M1,0C1,0.2485 0.5523,0.45 0,0.45C-0.5523,0.45 -1,0.2485 -1,0C-1,-0.2485 -0.5523,-0.45 0,-0.45C0.5523,-0.45 1,-0.2485 1,0Z","M1,0C1,0.2762 0.5523,0.5 0,0.5C-0.5523,0.5 -1,0.2762 -1,0C-1,-0.2762 -0.5523,-0.5 0,-0.5C0.5523,-0.5 1,-0.2762 1,0Z","M1,0C1,0.3038 0.5523,0.55 0,0.55C-0.5523,0.55 -1,0.3038 -1,0C-1,-0.3038 -0.5523,-0.55 0,-0.55C0.5523,-0.55 1,-0.3038 1,0Z"]}},
      "size":{"field":"len","type":"quantitative","legend":null,"scale":{"type":"pow","exponent":2,"domain":[0,200],"range":[0,40000]}},
      "angle":{"field":"a","type":"quantitative","scale":null}}},
    {"data":{"name":"pts"},"transform":[{"filter":"datum.p==6 && datum.m=='c'"}],"mark":{"type":"point","shape":"circle","filled":true,"opacity":1,"size":38,"stroke":"#333","strokeWidth":0.5,"strokeOpacity":0.7},"encoding":{"color":{"field":"c","type":"nominal","legend":null}}},
    {"data":{"name":"pts"},"transform":[{"filter":"datum.p==6 && datum.m=='t'"}],"mark":{"type":"point","shape":"triangle-up","filled":true,"opacity":1,"size":40,"stroke":"#333","strokeWidth":0.5,"strokeOpacity":0.7},"encoding":{"color":{"field":"c","type":"nominal","legend":null}}},
    {"data":{"name":"lab"},"transform":[{"filter":"datum.p==6"}],"mark":{"type":"text","text":"Stage","fontSize":24,"fontWeight":"bold","fontStyle":"italic","align":"left","baseline":"alphabetic","color":"#000"}},
    {"data":{"name":"lab"},"transform":[{"filter":"datum.p==6"}],"mark":{"type":"text","fontSize":24,"fontWeight":"bold","align":"left","baseline":"alphabetic","dx":62,"color":"#000"},"encoding":{"text":{"field":"s"}}},
    {"data":{"name":"wm"},"transform":[{"filter":"datum.p==6"}],"mark":{"type":"text","fontSize":22,"fontWeight":"bold","fontStyle":"italic","align":"right","baseline":"alphabetic","color":"#c8c8c8"},"encoding":{"text":{"field":"t"}}}
   ]}
 ]}
]
}
